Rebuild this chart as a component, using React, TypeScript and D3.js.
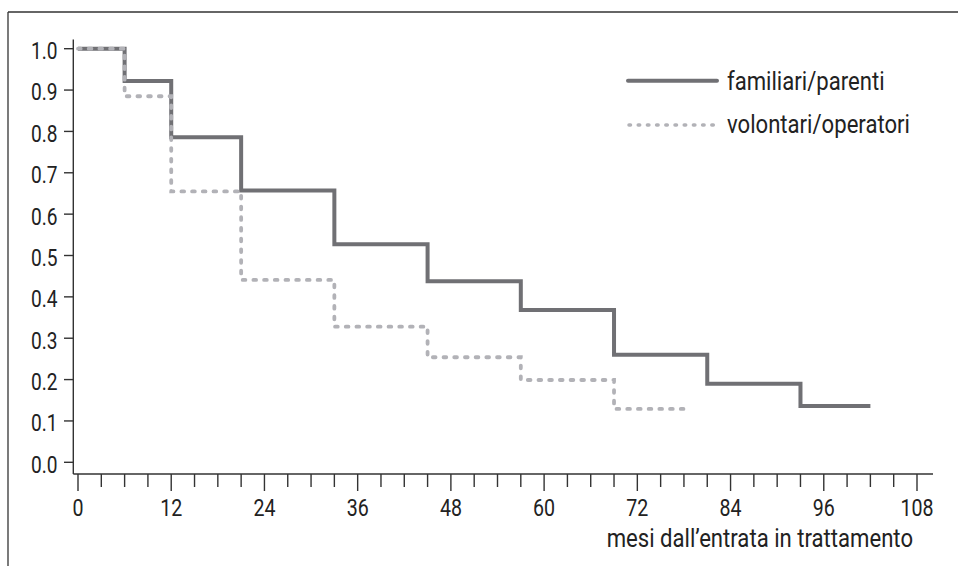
import React from "react";
import * as d3 from "d3";

const monthsFam = [0, 6, 12, 21, 33, 45, 57, 69, 81, 93, 102];
const survFam = [1.0, 0.922, 0.786, 0.657, 0.527, 0.438, 0.368, 0.26, 0.19, 0.136, 0.136];
const monthsVol = [0, 6, 12, 21, 33, 45, 57, 69, 78];
const survVol = [1.0, 0.885, 0.655, 0.441, 0.328, 0.254, 0.199, 0.129, 0.129];
const xTicks = [0, 12, 24, 36, 48, 60, 72, 84, 96, 108];
const yTicks = [0, 0.1, 0.2, 0.3, 0.4, 0.5, 0.6, 0.7, 0.8, 0.9, 1.0];
const seriesNames = ["familiari/parenti", "volontari/operatori"];
const xTitle = "mesi dall\u2019entrata in trattamento";

const W = 958;
const H = 566;
const FONT = "Roboto, 'Noto Sans', sans-serif";
const TXT = "#222";
const AX = "#333";

function CText(props: {
  x: number;
  y: number;
  size: number;
  k: number;
  anchor?: "start" | "middle" | "end";
  children: React.ReactNode;
}) {
  return (
    <text
      transform={`translate(${props.x},${props.y}) scale(${props.k},1)`}
      textAnchor={props.anchor || "start"}
      fontSize={props.size}
      fill={TXT}
      fontFamily={FONT}
    >
      {props.children}
    </text>
  );
}

export default function App() {
  const x = d3.scaleLinear().domain([0, 108]).range([78, 917]);
  const y = d3.scaleLinear().domain([0, 1]).range([462.3, 48.7]);
  const line = d3
    .line<[number, number]>()
    .x((d) => x(d[0]))
    .y((d) => y(d[1]))
    .curve(d3.curveStepAfter);
  const famPts = monthsFam.map((m, i) => [m, survFam[i]] as [number, number]);
  const volPts = monthsVol.map((m, i) => [m, survVol[i]] as [number, number]);
  const minor = d3.range(0, 109, 3);
  const axisY = 474;
  const axisX = 73.3;

  return (
    <svg
      width={W}
      height={H}
      style={{ position: "fixed", left: 0, top: 0, background: "#fff" }}
    >
      <rect x={0} y={0} width={W} height={H} fill="#fff" />
      {/* frame */}
      <line x1={8} y1={12} x2={W} y2={12} stroke={AX} strokeWidth={1.3} />
      <line x1={8} y1={12} x2={8} y2={H} stroke={AX} strokeWidth={1.3} />

      {/* y axis */}
      <line x1={axisX} y1={39.5} x2={axisX} y2={axisY} stroke={AX} strokeWidth={1.4} />
      {yTicks.map((t) => (
        <g key={t}>
          <line x1={64} x2={axisX} y1={y(t)} y2={y(t)} stroke={AX} strokeWidth={1.4} />
          <CText x={57.5} y={y(t) + 10.4} anchor="end" size={24.5} k={0.78}>
            {t.toFixed(1)}
          </CText>
        </g>
      ))}

      {/* x axis */}
      <line x1={axisX} y1={axisY} x2={933} y2={axisY} stroke={AX} strokeWidth={1.4} />
      {minor.map((m) => (
        <line
          key={m}
          x1={x(m)}
          x2={x(m)}
          y1={axisY}
          y2={m % 12 === 0 ? 491 : 487}
          stroke={AX}
          strokeWidth={1.4}
        />
      ))}
      {xTicks.map((t) => (
        <CText key={t} x={x(t)} y={516} anchor="middle" size={24.5} k={0.8}>
          {t}
        </CText>
      ))}
      <CText x={913} y={547} anchor="end" size={25} k={0.885}>
        {xTitle}
      </CText>

      {/* series */}
      <path d={line(famPts) || ""} fill="none" stroke="#707074" strokeWidth={4} />
      <path
        d={line(volPts) || ""}
        fill="none"
        stroke="#b2b2b7"
        strokeWidth={3.8}
        strokeDasharray="2.7 8"
        strokeLinecap="round"
      />

      {/* legend */}
      <line x1={628} x2={717} y1={80.7} y2={80.7} stroke="#707074" strokeWidth={4} strokeLinecap="round" />
      <CText x={727} y={89.5} size={25} k={0.885}>
        {seriesNames[0]}
      </CText>
      <line
        x1={629}
        x2={717}
        y1={125}
        y2={125}
        stroke="#b2b2b7"
        strokeWidth={3.5}
        strokeDasharray="1.5 7.7"
        strokeLinecap="round"
      />
      <CText x={727} y={133} size={25} k={0.885}>
        {seriesNames[1]}
      </CText>
    </svg>
  );
}
